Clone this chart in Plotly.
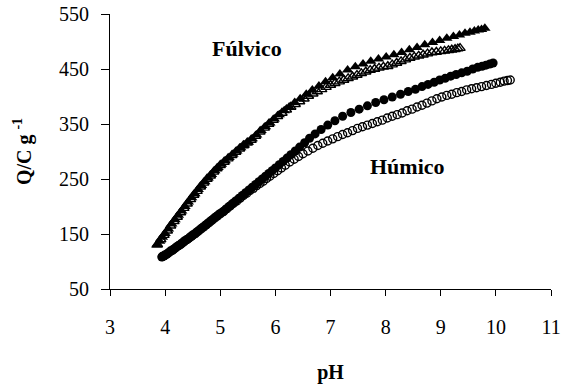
import plotly.graph_objects as go

# ---------------- data ----------------
# Fúlvico, filled triangles
ful_fill_ph = [3.85, 3.90, 3.95, 4.00, 4.06, 4.12, 4.18, 4.24, 4.30, 4.36,
               4.42, 4.48, 4.54, 4.60, 4.66, 4.72, 4.78, 4.84, 4.90, 4.96,
               5.02, 5.09, 5.16, 5.23, 5.30, 5.37, 5.44, 5.51, 5.58, 5.66,
               5.74, 5.82, 5.90, 5.98, 6.07, 6.16, 6.25, 6.35, 6.45, 6.56,
               6.67, 6.79, 6.91, 7.04, 7.17, 7.31, 7.45, 7.59, 7.73, 7.87,
               8.01, 8.15, 8.29, 8.43, 8.57, 8.71, 8.85, 8.98, 9.11, 9.23,
               9.34, 9.44, 9.53, 9.61, 9.68, 9.74, 9.80]
ful_fill_q = [130, 137, 144, 151, 159, 168, 176, 184, 192, 200,
              208, 216, 223, 231, 238, 245, 252, 258, 265, 271,
              277, 283, 289, 295, 301, 307, 312, 317, 323, 330,
              338, 345, 352, 359, 367, 374, 381, 389, 396, 404,
              412, 419, 427, 434, 441, 448, 454, 459, 464, 468,
              472, 476, 480, 485, 489, 494, 498, 502, 506, 509,
              512, 515, 517, 519, 521, 522, 524]

# Fúlvico, open triangles
ful_open_ph = [3.86, 3.92, 3.98, 4.04, 4.10, 4.16, 4.22, 4.28, 4.34, 4.40,
               4.46, 4.52, 4.58, 4.64, 4.70, 4.76, 4.82, 4.88, 4.94, 5.00,
               5.07, 5.14, 5.21, 5.28, 5.35, 5.42, 5.49, 5.56, 5.64, 5.72,
               5.80, 5.88, 5.96, 6.04, 6.12, 6.20, 6.28, 6.36, 6.44, 6.52,
               6.60, 6.68, 6.76, 6.84, 6.92, 7.00, 7.08, 7.16, 7.24, 7.32,
               7.40, 7.48, 7.56, 7.64, 7.72, 7.80, 7.88, 7.96, 8.04, 8.12,
               8.20, 8.28, 8.36, 8.44, 8.52, 8.60, 8.68, 8.76, 8.84, 8.92,
               9.00, 9.07, 9.14, 9.20, 9.26, 9.31, 9.35]
ful_open_q = [131, 140, 148, 156, 165, 173, 181, 189, 197, 205,
              213, 221, 228, 236, 243, 250, 256, 263, 269, 275,
              281, 287, 293, 299, 305, 311, 316, 321, 328, 336,
              343, 350, 357, 364, 370, 376, 381, 386, 391, 396,
              401, 405, 409, 413, 417, 421, 424, 427, 430, 433,
              436, 439, 442, 445, 448, 450, 452, 454, 455, 458,
              461, 464, 467, 470, 472, 474, 476, 478, 480, 481,
              482, 483, 484, 485, 486, 487, 488]

# Húmico, filled circles
hum_fill_ph = [3.94, 3.98, 4.03, 4.08, 4.13, 4.18, 4.23, 4.28, 4.33, 4.38,
               4.43, 4.48, 4.53, 4.58, 4.63, 4.68, 4.73, 4.78, 4.83, 4.88,
               4.93, 4.98, 5.04, 5.10, 5.16, 5.22, 5.28, 5.34, 5.40, 5.46,
               5.52, 5.58, 5.64, 5.70, 5.76, 5.82, 5.88, 5.94, 6.00, 6.07,
               6.14, 6.21, 6.28, 6.36, 6.44, 6.53, 6.62, 6.72, 6.83, 6.95,
               7.08, 7.22, 7.37, 7.52, 7.67, 7.82, 7.97, 8.12, 8.27, 8.41,
               8.54, 8.66, 8.77, 8.88, 8.98, 9.08, 9.18, 9.28, 9.38, 9.48,
               9.58, 9.67, 9.75, 9.82, 9.89, 9.95]
hum_fill_q = [108, 110, 113, 117, 120, 124, 128, 131, 135, 139,
              142, 146, 150, 154, 158, 162, 166, 170, 174, 178,
              182, 186, 190, 195, 200, 205, 210, 215, 220, 225,
              230, 235, 240, 245, 250, 255, 260, 265, 270, 276,
              282, 288, 294, 301, 308, 316, 324, 332, 340, 348,
              356, 364, 371, 377, 383, 389, 394, 399, 404, 409,
              413, 418, 422, 426, 430, 433, 437, 440, 443, 446,
              450, 453, 455, 457, 459, 461]

# Húmico, open circles
hum_open_ph = [3.95, 4.00, 4.05, 4.10, 4.15, 4.20, 4.25, 4.30, 4.35, 4.40,
               4.45, 4.50, 4.55, 4.60, 4.65, 4.70, 4.75, 4.80, 4.85, 4.90,
               4.95, 5.00, 5.06, 5.12, 5.18, 5.24, 5.30, 5.36, 5.42, 5.48,
               5.54, 5.60, 5.66, 5.72, 5.78, 5.84, 5.90, 5.97, 6.04, 6.11,
               6.18, 6.26, 6.34, 6.42, 6.50, 6.59, 6.68, 6.77, 6.86, 6.95,
               7.04, 7.13, 7.22, 7.31, 7.40, 7.49, 7.58, 7.67, 7.76, 7.85,
               7.94, 8.03, 8.12, 8.21, 8.30, 8.39, 8.48, 8.57, 8.66, 8.75,
               8.84, 8.93, 9.02, 9.11, 9.20, 9.29, 9.38, 9.47, 9.56, 9.65,
               9.74, 9.83, 9.92, 10.00, 10.08, 10.15, 10.21, 10.26]
hum_open_q = [109, 112, 115, 119, 122, 126, 129, 133, 137, 140,
              144, 148, 151, 155, 159, 163, 167, 171, 175, 179,
              183, 187, 191, 196, 201, 206, 210, 215, 220, 224,
              229, 233, 238, 242, 246, 251, 255, 260, 265, 270,
              275, 281, 286, 291, 296, 301, 306, 311, 315, 319,
              323, 327, 331, 334, 338, 342, 345, 348, 351, 354,
              357, 361, 364, 367, 370, 374, 377, 381, 384, 388,
              392, 396, 399, 402, 404, 407, 409, 412, 414, 416,
              418, 420, 422, 424, 426, 428, 429, 430]

x_ticks = [3, 4, 5, 6, 7, 8, 9, 10, 11]
y_ticks = [50, 150, 250, 350, 450, 550]

# ---------------- figure ----------------
FONT = "Liberation Serif, Times New Roman, serif"

fig = go.Figure()
fig.add_trace(go.Scatter(x=hum_open_ph, y=hum_open_q, mode="markers",
                         marker=dict(symbol="circle-open", size=8, color="black",
                                     line=dict(width=1.4, color="black"))))
fig.add_trace(go.Scatter(x=hum_fill_ph, y=hum_fill_q, mode="markers",
                         marker=dict(symbol="circle", size=9, color="black")))
fig.add_trace(go.Scatter(x=ful_open_ph, y=ful_open_q, mode="markers",
                         marker=dict(symbol="triangle-up-open", size=9, color="black",
                                     line=dict(width=1.4, color="black"))))
fig.add_trace(go.Scatter(x=ful_fill_ph, y=ful_fill_q, mode="markers",
                         marker=dict(symbol="triangle-up", size=10, color="black")))

fig.add_annotation(x=5.48, y=487, text="<b>Fúlvico</b>", showarrow=False,
                   font=dict(family=FONT, size=22, color="black"))
fig.add_annotation(x=8.39, y=272, text="<b>Húmico</b>", showarrow=False,
                   font=dict(family=FONT, size=22, color="black"))

fig.update_layout(
    width=562, height=384,
    margin=dict(l=110, r=11, t=14, b=95, autoexpand=False),
    paper_bgcolor="white", plot_bgcolor="white",
    showlegend=False,
    font=dict(family=FONT, size=20, color="black"),
    xaxis=dict(range=[3, 11], tickvals=x_ticks, ticktext=[str(v) for v in x_ticks],
               showline=True, linecolor="black", linewidth=1,
               ticks="outside", ticklen=6, tickcolor="black", tickwidth=1,
               showgrid=False, zeroline=False, ticklabelstandoff=14,
               automargin=False,
               title=dict(text="<b>pH</b>", standoff=28,
                          font=dict(family=FONT, size=20, color="black"))),
    yaxis=dict(range=[50, 550], tickvals=y_ticks, ticktext=[str(v) for v in y_ticks],
               showline=True, linecolor="black", linewidth=1,
               ticks="outside", ticklen=8, tickcolor="black", tickwidth=1,
               showgrid=False, zeroline=False, ticklabelstandoff=8,
               automargin=False,
               title=dict(text="<b>Q/C g <sup>-1</sup></b>", standoff=22,
                          font=dict(family=FONT, size=20, color="black"))),
)

fig.write_html("out.html")
